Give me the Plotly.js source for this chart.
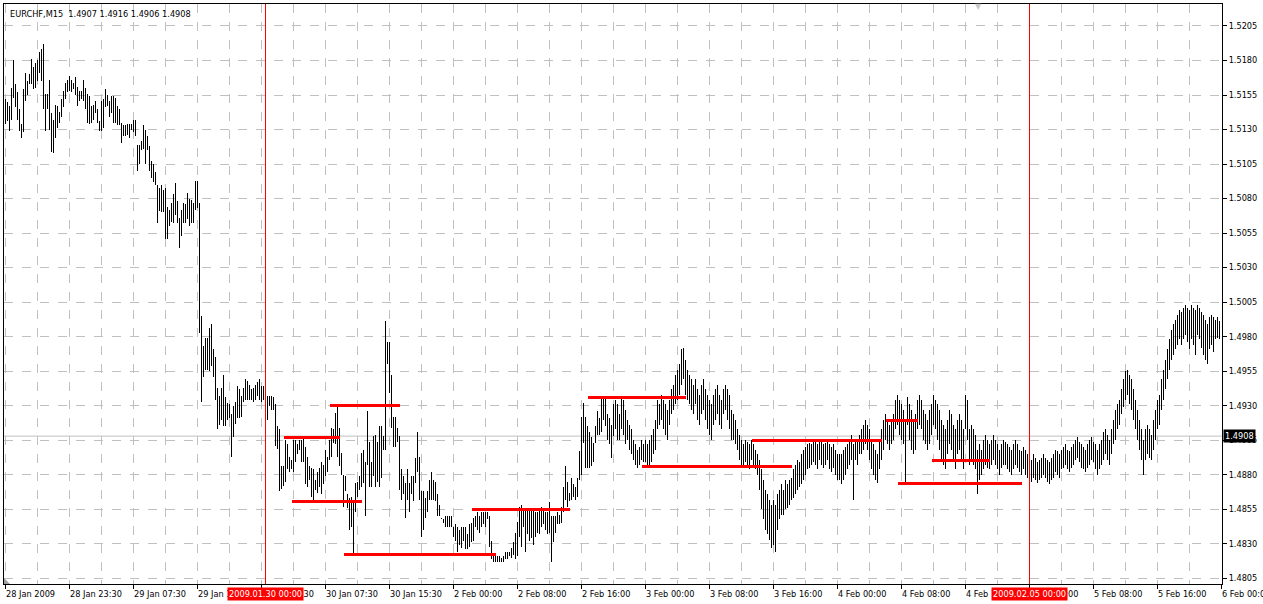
<!DOCTYPE html>
<html>
<head>
<meta charset="utf-8">
<script src="https://cdn.plot.ly/plotly-3.0.1.min.js"></script>
<style>
html,body{margin:0;padding:0;background:#fff;}
#chart{width:1263px;height:604px;}
.scatterlayer path{shape-rendering:crispEdges;}
</style>
</head>
<body>
<div id="chart"></div>
<script>
// ---- DATA ----
const symbol = 'EURCHF,M15';
const lastOHLC = [1.4907, 1.4916, 1.4906, 1.4908];

const high = [
1.5152,1.5150,1.5147,1.5160,1.5180,1.5163,1.5157,1.5145,1.5134,1.5159,
1.5171,1.5165,1.5170,1.5181,1.5175,1.5178,1.5180,1.5186,1.5188,1.5192,
1.5156,1.5156,1.5166,1.5142,1.5137,1.5148,1.5147,1.5143,1.5152,1.5158,
1.5164,1.5166,1.5169,1.5166,1.5164,1.5168,1.5161,1.5158,1.5158,1.5166,
1.5160,1.5156,1.5154,1.5147,1.5148,1.5151,1.5145,1.5136,1.5151,1.5152,
1.5159,1.5155,1.5151,1.5154,1.5154,1.5153,1.5147,1.5145,1.5135,1.5133,
1.5133,1.5134,1.5134,1.5134,1.5137,1.5137,1.5119,1.5119,1.5122,1.5133,
1.5130,1.5125,1.5118,1.5107,1.5105,1.5099,1.5090,1.5088,1.5090,1.5086,
1.5088,1.5074,1.5072,1.5077,1.5083,1.5091,1.5078,1.5066,1.5072,1.5077,
1.5076,1.5084,1.5080,1.5079,1.5077,1.5093,1.5093,1.5077,1.4995,1.4973,
1.4979,1.4979,1.4986,1.4989,1.4971,1.4965,1.4943,1.4937,1.4943,1.4952,
1.4936,1.4932,1.4931,1.4924,1.4930,1.4933,1.4944,1.4942,1.4937,1.4943,
1.4949,1.4948,1.4945,1.4942,1.4943,1.4945,1.4947,1.4949,1.4944,1.4944,
1.4945,1.4937,1.4937,1.4937,1.4936,1.4931,1.4915,1.4913,1.4886,1.4886,
1.4905,1.4902,1.4893,1.4891,1.4905,1.4905,1.4902,1.4905,1.4905,1.4907,
1.4900,1.4893,1.4886,1.4885,1.4884,1.4876,1.4882,1.4885,1.4889,1.4887,
1.4898,1.4893,1.4905,1.4914,1.4913,1.4925,1.4929,1.4914,1.4896,1.4880,
1.4879,1.4866,1.4863,1.4864,1.4862,1.4874,1.4875,1.4879,1.4896,1.4898,
1.4889,1.4926,1.4904,1.4889,1.4908,1.4909,1.4904,1.4915,1.4915,1.4908,
1.4991,1.4976,1.4976,1.4952,1.4922,1.4922,1.4914,1.4908,1.4884,1.4879,
1.4874,1.4884,1.4874,1.4879,1.4879,1.4892,1.4911,1.4893,1.4868,1.4868,
1.4863,1.4868,1.4876,1.4882,1.4876,1.4875,1.4866,1.4858,1.4849,1.4848,
1.4850,1.4850,1.4850,1.4850,1.4842,1.4844,1.4842,1.4840,1.4842,1.4842,
1.4842,1.4837,1.4844,1.4845,1.4849,1.4850,1.4853,1.4850,1.4853,1.4853,
1.4853,1.4853,1.4850,1.4832,1.4822,1.4822,1.4821,1.4821,1.4820,1.4821,
1.4824,1.4824,1.4824,1.4827,1.4831,1.4838,1.4846,1.4857,1.4858,1.4855,
1.4855,1.4856,1.4855,1.4855,1.4856,1.4853,1.4853,1.4856,1.4857,1.4856,
1.4853,1.4853,1.4860,1.4850,1.4850,1.4850,1.4853,1.4851,1.4857,1.4871,
1.4886,1.4875,1.4867,1.4878,1.4873,1.4871,1.4878,1.4897,1.4922,1.4932,
1.4922,1.4915,1.4911,1.4907,1.4903,1.4915,1.4926,1.4921,1.4936,1.4936,
1.4936,1.4924,1.4921,1.4916,1.4931,1.4934,1.4931,1.4924,1.4936,1.4934,
1.4927,1.4920,1.4916,1.4913,1.4905,1.4902,1.4898,1.4900,1.4905,1.4902,
1.4905,1.4902,1.4905,1.4909,1.4913,1.4920,1.4934,1.4931,1.4938,1.4934,
1.4931,1.4927,1.4934,1.4942,1.4945,1.4952,1.4956,1.4960,1.4971,1.4972,
1.4963,1.4956,1.4952,1.4949,1.4945,1.4949,1.4942,1.4938,1.4945,1.4949,
1.4942,1.4938,1.4934,1.4931,1.4938,1.4942,1.4945,1.4938,1.4934,1.4942,
1.4945,1.4942,1.4938,1.4927,1.4924,1.4920,1.4913,1.4909,1.4905,1.4902,
1.4905,1.4904,1.4902,1.4905,1.4902,1.4898,1.4895,1.4891,1.4884,1.4876,
1.4869,1.4866,1.4862,1.4858,1.4862,1.4858,1.4866,1.4869,1.4873,1.4869,
1.4876,1.4873,1.4876,1.4878,1.4884,1.4887,1.4891,1.4889,1.4895,1.4898,
1.4900,1.4902,1.4903,1.4902,1.4905,1.4904,1.4902,1.4905,1.4904,1.4902,
1.4903,1.4905,1.4902,1.4900,1.4902,1.4898,1.4895,1.4895,1.4895,1.4898,
1.4900,1.4902,1.4905,1.4909,1.4902,1.4905,1.4904,1.4909,1.4913,1.4916,
1.4920,1.4916,1.4913,1.4905,1.4902,1.4898,1.4895,1.4905,1.4913,1.4920,
1.4924,1.4920,1.4916,1.4920,1.4924,1.4934,1.4938,1.4934,1.4931,1.4927,
1.4920,1.4936,1.4931,1.4927,1.4920,1.4924,1.4934,1.4938,1.4934,1.4927,
1.4924,1.4920,1.4927,1.4931,1.4938,1.4934,1.4931,1.4927,1.4920,1.4916,
1.4913,1.4920,1.4927,1.4924,1.4916,1.4913,1.4920,1.4924,1.4920,1.4913,
1.4938,1.4934,1.4913,1.4916,1.4913,1.4909,1.4898,1.4902,1.4898,1.4905,
1.4909,1.4905,1.4902,1.4905,1.4909,1.4905,1.4902,1.4898,1.4902,1.4905,
1.4904,1.4902,1.4900,1.4898,1.4902,1.4905,1.4902,1.4898,1.4897,1.4900,
1.4898,1.4895,1.4892,1.4891,1.4895,1.4892,1.4889,1.4891,1.4892,1.4895,
1.4892,1.4891,1.4889,1.4892,1.4895,1.4898,1.4897,1.4895,1.4898,1.4900,
1.4902,1.4898,1.4897,1.4900,1.4902,1.4905,1.4907,1.4904,1.4902,1.4900,
1.4898,1.4902,1.4905,1.4907,1.4904,1.4902,1.4898,1.4902,1.4905,1.4911,
1.4913,1.4909,1.4905,1.4913,1.4920,1.4927,1.4931,1.4934,1.4942,1.4949,
1.4955,1.4956,1.4952,1.4949,1.4942,1.4934,1.4927,1.4920,1.4913,1.4905,
1.4913,1.4916,1.4913,1.4909,1.4920,1.4927,1.4934,1.4938,1.4949,1.4956,
1.4963,1.4971,1.4978,1.4985,1.4989,1.4992,1.4996,1.4999,1.4998,1.5001,
1.5003,1.5001,1.4999,1.5003,1.5001,1.4999,1.5003,1.5001,1.4998,1.4996,
1.4992,1.4989,1.4994,1.4996,1.4994,1.4992,1.4994,1.4991
];

const low = [
1.5134,1.5136,1.5129,1.5137,1.5153,1.5146,1.5137,1.5129,1.5124,1.5128,
1.5151,1.5155,1.5163,1.5163,1.5159,1.5160,1.5165,1.5171,1.5165,1.5145,
1.5129,1.5145,1.5130,1.5114,1.5113,1.5124,1.5131,1.5135,1.5139,1.5146,
1.5152,1.5157,1.5158,1.5157,1.5159,1.5155,1.5147,1.5151,1.5152,1.5151,
1.5145,1.5135,1.5134,1.5135,1.5137,1.5142,1.5135,1.5129,1.5129,1.5131,
1.5146,1.5147,1.5139,1.5142,1.5135,1.5135,1.5133,1.5133,1.5120,1.5125,
1.5125,1.5126,1.5124,1.5130,1.5128,1.5125,1.5100,1.5105,1.5115,1.5116,
1.5105,1.5115,1.5100,1.5095,1.5092,1.5090,1.5062,1.5071,1.5070,1.5070,
1.5051,1.5051,1.5060,1.5063,1.5062,1.5068,1.5062,1.5044,1.5053,1.5062,
1.5062,1.5065,1.5060,1.5062,1.5062,1.5072,1.5073,1.4983,1.4933,1.4951,
1.4956,1.4956,1.4955,1.4959,1.4951,1.4934,1.4913,1.4916,1.4920,1.4915,
1.4915,1.4920,1.4921,1.4893,1.4907,1.4917,1.4921,1.4921,1.4922,1.4933,
1.4934,1.4934,1.4934,1.4934,1.4933,1.4934,1.4937,1.4934,1.4933,1.4934,
1.4936,1.4920,1.4930,1.4927,1.4927,1.4901,1.4899,1.4868,1.4870,1.4872,
1.4875,1.4884,1.4882,1.4884,1.4882,1.4889,1.4895,1.4898,1.4889,1.4889,
1.4873,1.4871,1.4876,1.4864,1.4862,1.4869,1.4867,1.4871,1.4866,1.4873,
1.4879,1.4882,1.4891,1.4893,1.4903,1.4902,1.4893,1.4886,1.4880,1.4857,
1.4868,1.4856,1.4840,1.4842,1.4822,1.4853,1.4864,1.4869,1.4871,1.4874,
1.4850,1.4887,1.4871,1.4871,1.4879,1.4871,1.4875,1.4871,1.4878,1.4898,
1.4898,1.4960,1.4939,1.4914,1.4900,1.4900,1.4904,1.4869,1.4862,1.4866,
1.4849,1.4862,1.4853,1.4866,1.4861,1.4874,1.4882,1.4862,1.4835,1.4840,
1.4849,1.4853,1.4862,1.4862,1.4862,1.4861,1.4850,1.4850,1.4848,1.4845,
1.4842,1.4842,1.4842,1.4842,1.4835,1.4832,1.4824,1.4829,1.4827,1.4832,
1.4826,1.4826,1.4828,1.4831,1.4832,1.4842,1.4840,1.4838,1.4842,1.4844,
1.4842,1.4848,1.4828,1.4819,1.4817,1.4817,1.4817,1.4817,1.4817,1.4817,
1.4819,1.4819,1.4821,1.4820,1.4822,1.4819,1.4821,1.4835,1.4828,1.4842,
1.4824,1.4837,1.4832,1.4834,1.4829,1.4835,1.4838,1.4837,1.4842,1.4844,
1.4840,1.4837,1.4838,1.4817,1.4831,1.4838,1.4844,1.4844,1.4845,1.4853,
1.4862,1.4857,1.4861,1.4862,1.4864,1.4862,1.4864,1.4876,1.4880,1.4903,
1.4885,1.4885,1.4885,1.4886,1.4889,1.4903,1.4909,1.4909,1.4911,1.4920,
1.4915,1.4905,1.4902,1.4892,1.4908,1.4913,1.4905,1.4905,1.4913,1.4909,
1.4902,1.4905,1.4898,1.4895,1.4891,1.4887,1.4885,1.4887,1.4891,1.4889,
1.4889,1.4887,1.4887,1.4889,1.4895,1.4898,1.4913,1.4916,1.4920,1.4913,
1.4909,1.4905,1.4916,1.4924,1.4927,1.4931,1.4934,1.4938,1.4945,1.4949,
1.4938,1.4934,1.4931,1.4927,1.4924,1.4931,1.4920,1.4916,1.4924,1.4927,
1.4920,1.4913,1.4909,1.4905,1.4916,1.4920,1.4924,1.4916,1.4913,1.4924,
1.4927,1.4920,1.4913,1.4905,1.4905,1.4902,1.4898,1.4891,1.4887,1.4885,
1.4889,1.4887,1.4884,1.4891,1.4885,1.4884,1.4880,1.4869,1.4855,1.4848,
1.4840,1.4837,1.4833,1.4827,1.4829,1.4824,1.4840,1.4848,1.4851,1.4851,
1.4855,1.4856,1.4858,1.4862,1.4863,1.4866,1.4869,1.4871,1.4873,1.4876,
1.4880,1.4884,1.4885,1.4887,1.4889,1.4887,1.4884,1.4891,1.4887,1.4885,
1.4887,1.4891,1.4884,1.4882,1.4885,1.4880,1.4876,1.4876,1.4873,1.4876,
1.4880,1.4884,1.4887,1.4891,1.4862,1.4891,1.4887,1.4895,1.4895,1.4898,
1.4902,1.4898,1.4891,1.4884,1.4880,1.4876,1.4874,1.4884,1.4891,1.4898,
1.4905,1.4902,1.4898,1.4902,1.4905,1.4913,1.4916,1.4909,1.4905,1.4902,
1.4874,1.4916,1.4905,1.4898,1.4895,1.4898,1.4913,1.4916,1.4913,1.4905,
1.4902,1.4898,1.4902,1.4909,1.4916,1.4913,1.4905,1.4898,1.4891,1.4887,
1.4884,1.4895,1.4902,1.4898,1.4891,1.4884,1.4895,1.4898,1.4891,1.4884,
1.4913,1.4905,1.4887,1.4891,1.4887,1.4884,1.4866,1.4876,1.4880,1.4884,
1.4887,1.4885,1.4884,1.4887,1.4891,1.4887,1.4884,1.4880,1.4885,1.4887,
1.4887,1.4884,1.4882,1.4880,1.4884,1.4887,1.4885,1.4882,1.4880,1.4884,
1.4880,1.4878,1.4876,1.4875,1.4878,1.4876,1.4874,1.4876,1.4878,1.4880,
1.4878,1.4875,1.4873,1.4876,1.4878,1.4882,1.4880,1.4878,1.4884,1.4885,
1.4887,1.4884,1.4882,1.4885,1.4887,1.4891,1.4892,1.4889,1.4885,1.4884,
1.4882,1.4885,1.4887,1.4891,1.4889,1.4884,1.4880,1.4884,1.4887,1.4891,
1.4895,1.4891,1.4887,1.4895,1.4902,1.4905,1.4913,1.4916,1.4924,1.4929,
1.4934,1.4938,1.4931,1.4927,1.4920,1.4913,1.4905,1.4898,1.4891,1.4880,
1.4891,1.4895,1.4892,1.4891,1.4898,1.4905,1.4913,1.4916,1.4927,1.4934,
1.4942,1.4949,1.4956,1.4963,1.4967,1.4971,1.4974,1.4978,1.4974,1.4978,
1.4981,1.4976,1.4971,1.4978,1.4974,1.4967,1.4981,1.4978,1.4972,1.4967,
1.4963,1.4960,1.4971,1.4974,1.4969,1.4978,1.4979,1.4978
];

// support / resistance segments drawn on the chart
const srLevel = [1.4907, 1.4930, 1.4861, 1.4822, 1.4855, 1.4936, 1.4886, 1.4905, 1.4919, 1.4890, 1.4874];
const srStart = [139, 162, 143, 169, 233, 291, 318, 373, 440, 463, 446];
const srEnd   = [167, 197, 178, 245, 282, 340, 393, 438, 456, 492, 508];

// time axis
const timeLabelBars = [0,32,64,96,128,160,192,224,256,288,320,352,384,416,448,480,512,544,576,608];
const timeLabels = ['28 Jan 2009','28 Jan 23:30','29 Jan 07:30','29 Jan 15:30','29 Jan 23:30','30 Jan 07:30',
  '30 Jan 15:30','2 Feb 00:00','2 Feb 08:00','2 Feb 16:00','3 Feb 00:00','3 Feb 08:00','3 Feb 16:00',
  '4 Feb 00:00','4 Feb 08:00','4 Feb 16:00','5 Feb 00:00','5 Feb 08:00','5 Feb 16:00','6 Feb 00:00'];

// date cursors
const cursorBars = [130, 512];
const cursorLabels = ['2009.01.30 00:00', '2009.02.05 00:00'];

// ---- BUILD ----
const FONT = 'DejaVu Sans';
const FS = 8.2;

const bx = [], by = [];
for (let i = 0; i < high.length; i++) {
  bx.push(i, i, null);
  by.push(high[i], low[i], null);
}
const traces = [{
  type: 'scatter', mode: 'lines', x: bx, y: by,
  line: {color: '#000000', width: 1}, hoverinfo: 'skip', showlegend: false
}];
for (let k = 0; k < srLevel.length; k++) {
  traces.push({
    type: 'scatter', mode: 'lines',
    x: [srStart[k], srEnd[k]], y: [srLevel[k], srLevel[k]],
    line: {color: '#ff0000', width: 3}, hoverinfo: 'skip', showlegend: false
  });
}

const lastClose = lastOHLC[3];
const shapes = [
  {type: 'line', xref: 'paper', x0: 0, x1: 1, yref: 'y', y0: lastClose, y1: lastClose,
   line: {color: '#c0c0c0', width: 1}, layer: 'below'},
  {type: 'path', xref: 'paper', yref: 'paper', path: 'M 0 0 L 0 0.0103 L 0.0049 0 Z',
   fillcolor: '#a0a0a0', line: {width: 0}}
];
cursorBars.forEach(b => shapes.push({
  type: 'line', xref: 'x', x0: b, x1: b, yref: 'paper', y0: 0, y1: 1,
  line: {color: '#ff0000', width: 1}
}));

const annotations = [];
timeLabelBars.forEach((b, k) => annotations.push({
  x: b, xref: 'x', y: 0, yref: 'paper', xanchor: 'left', yanchor: 'top',
  text: timeLabels[k], showarrow: false, xshift: -2, yshift: -3,
  font: {family: FONT, size: FS, color: '#000'}
}));
cursorBars.forEach((b, k) => annotations.push({
  x: b, xref: 'x', y: 0, yref: 'paper', xanchor: 'center', yanchor: 'top',
  text: cursorLabels[k], showarrow: false, yshift: -3, bgcolor: '#ff0000', borderpad: 1,
  font: {family: FONT, size: FS, color: '#ffffff'}
}));
annotations.push({
  x: 1, xref: 'paper', y: lastClose, yref: 'y', xanchor: 'left', yanchor: 'middle',
  text: lastClose.toFixed(4), showarrow: false, bgcolor: '#000000', borderpad: 1, xshift: 1,
  font: {family: FONT, size: FS, color: '#ffffff'}
});
annotations.push({
  x: 0, xref: 'paper', y: 1, yref: 'paper', xanchor: 'left', yanchor: 'top',
  text: symbol + '  ' + lastOHLC.map(v => v.toFixed(4)).join(' '),
  showarrow: false, xshift: 4, yshift: -3,
  font: {family: FONT, size: FS, color: '#000'}
});
annotations.push({
  x: 0.7997, xref: 'paper', y: 1, yref: 'paper', xanchor: 'center', yanchor: 'top',
  text: '▼', showarrow: false, yshift: 4,
  font: {family: FONT, size: 8, color: '#c8c8c8'}
});

const layout = {
  width: 1263, height: 604,
  margin: {l: 4, r: 41, t: 4, b: 20, pad: 0},
  paper_bgcolor: '#ffffff', plot_bgcolor: '#ffffff',
  showlegend: false,
  font: {family: FONT, size: FS, color: '#000'},
  xaxis: {
    range: [-0.75, 608.25], fixedrange: true,
    tickmode: 'array', tickvals: timeLabelBars, showticklabels: false,
    ticks: 'outside', ticklen: 4, tickcolor: '#000', tickwidth: 1,
    showgrid: true, gridcolor: '#c0c0c0', griddash: 'dash', gridwidth: 1,
    minor: {tickmode: 'linear', tick0: 0, dtick: 16, showgrid: true, gridcolor: '#c0c0c0', griddash: 'dash', gridwidth: 1, ticks: ''},
    showline: true, linecolor: '#000', linewidth: 1, mirror: true, zeroline: false
  },
  yaxis: {
    range: [1.48009, 1.52209], fixedrange: true, side: 'right',
    tickmode: 'linear', tick0: 1.4805, dtick: 0.0025, tickformat: '.4f',
    ticks: 'outside', ticklen: 4, tickcolor: '#000', tickwidth: 1,
    tickfont: {family: FONT, size: FS, color: '#000'},
    showgrid: true, gridcolor: '#c0c0c0', griddash: 'dash', gridwidth: 1,
    showline: true, linecolor: '#000', linewidth: 1, mirror: true, zeroline: false
  },
  shapes: shapes,
  annotations: annotations
};

Plotly.newPlot('chart', traces, layout, {staticPlot: true, displayModeBar: false});
</script>
</body>
</html>
